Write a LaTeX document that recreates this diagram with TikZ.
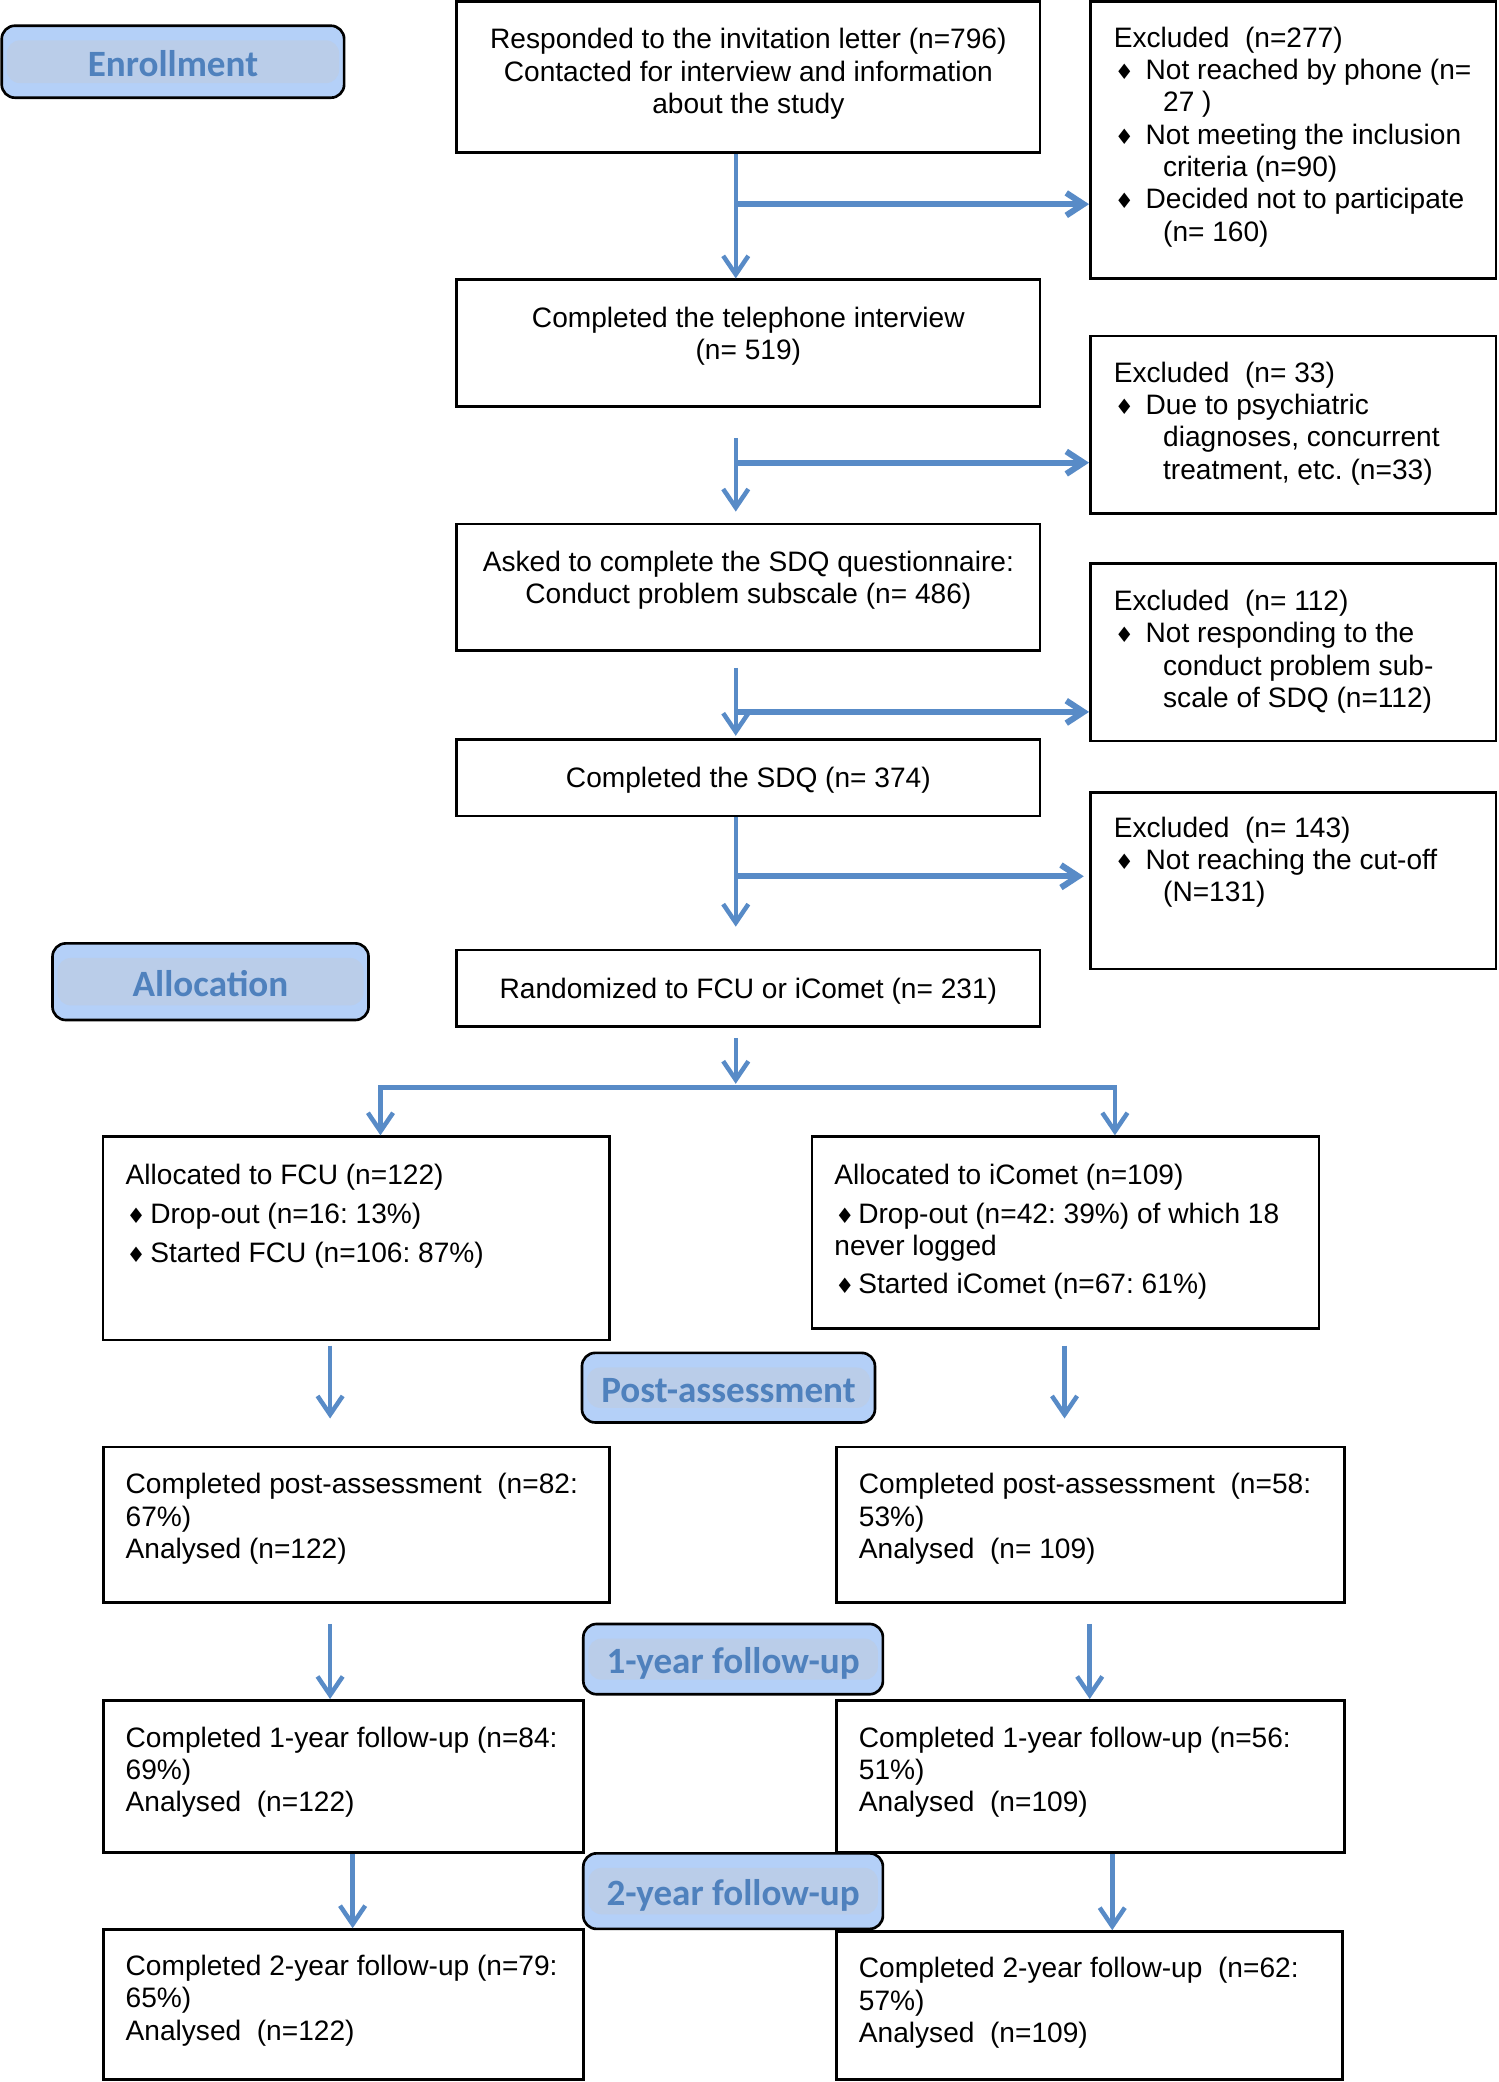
\documentclass[tikz,border=0pt]{standalone}
\usepackage{fontspec}
\setmainfont{Liberation Sans}
\newfontfamily\hdrfont{Carlito}
\newfontfamily\symfont{DejaVu Sans}
\usetikzlibrary{arrows.meta,calc,fit}
\definecolor{arrowc}{RGB}{88,139,199}
\definecolor{hdrtext}{RGB}{79,129,189}
\definecolor{hdrlight}{RGB}{180,208,248}
\definecolor{hdrmid}{RGB}{186,205,233}
\newcommand\dia{{\symfont\fontsize{8}{8}\selectfont ♦}}
\newcommand\bl[1]{\makebox[#1][l]{\hspace{0.4pt}\dia}}
\frenchspacing
\begin{document}
\frenchspacing
\begin{tikzpicture}[x=0.5pt,y=-0.5pt,
  box/.style={draw=black,line width=1pt,inner sep=0pt},
  hdr/.style={draw=black,line width=1pt,inner sep=0pt,rounded corners=5pt,fill=hdrlight,
     path picture={\fill[hdrmid] ([xshift=1.9pt,yshift=-5.5pt]path picture bounding box.north west) rectangle ([xshift=-1.9pt,yshift=5.5pt]path picture bounding box.south east);}},
  hdrtxt/.style={inner sep=0pt, anchor=base, font=\hdrfont\bfseries\fontsize{14}{16}\selectfont, text=hdrtext},
  txt/.style={inner sep=0pt, font=\frenchspacing\fontsize{10.6}{12.2}\selectfont, align=left, anchor=north west},
  ctxt/.style={txt, align=center, anchor=north},
  arr/.style={draw=arrowc, line width=1.7pt, -{Straight Barb[length=7pt,width=9.5pt]}},
  brarr/.style={draw=arrowc, line width=2.3pt, -{Straight Barb[length=6.5pt,width=8.5pt]}}
]
\useasboundingbox (0,0) rectangle (1130,1570.5);

% headers
\node[hdr, fit={(1.3,19.4) (259.6,73.7)}] (hE) {};
\node[hdr, fit={(39.6,711.6) (278,769.4)}] (hA) {};
\node[hdr, fit={(439,1020.5) (660,1073)}] (hP) {};
\node[hdr, fit={(440,1225) (666,1278)}] (h1) {};
\node[hdr, fit={(440,1398) (666,1455)}] (h2) {};
\node[hdrtxt] (hEt) at ($(hE.center)+(0,10.8)$) {Enrollment};
\node[hdrtxt] (hAt) at ($(hA.center)+(0,10.8)$) {Allocation};
\node[hdrtxt] (hPt) at ($(hP.center)+(0,10.8)$) {Post-assessment};
\node[hdrtxt] (h1t) at ($(h1.center)+(0,10.8)$) {1-year follow-up};
\node[hdrtxt] (h2t) at ($(h2.center)+(0,10.8)$) {2-year follow-up};

% boxes
\node[box, fit={(344.5,1.3) (784.4,115.2)}] (b1) {};
\node[box, fit={(822.5,1.3) (1128.5,210)}] (e1) {};
\node[box, fit={(344.5,211) (784.4,306.8)}] (b2) {};
\node[box, fit={(822.5,253.5) (1128.5,387.2)}] (e2) {};
\node[box, fit={(344.5,395.3) (784.4,490.8)}] (b3) {};
\node[box, fit={(822.5,425) (1128.5,559)}] (e3) {};
\node[box, fit={(344.5,558) (784.4,615.5)}] (b4) {};
\node[box, fit={(822.5,597.7) (1128.5,731)}] (e4) {};
\node[box, fit={(344.5,716.6) (784.4,774.5)}] (b5) {};
\node[box, fit={(77.8,857.4) (459.7,1010.8)}] (fcu) {};
\node[box, fit={(612.4,857.4) (995,1002)}] (ic) {};
\node[box, fit={(78,1091.5) (459.7,1209)}] (pf) {};
\node[box, fit={(631,1091.5) (1014,1209)}] (pi) {};
\node[box, fit={(78,1282.6) (440,1397.5)}] (yf) {};
\node[box, fit={(631,1282.6) (1014,1397.5)}] (yi) {};
\node[box, fit={(78,1455.5) (440,1568.8)}] (zf) {};
\node[box, fit={(631,1457) (1012.5,1568.8)}] (zi) {};

% texts
\node[ctxt] (t1) at (564.5,19.4) {\strut Responded to the invitation letter (n=796)\\Contacted for interview and information\\about the study};
\node[txt] (te1) at (839.8,18.1) {\strut Excluded\ \ (n=277)\\
\bl{12pt}Not reached by phone (n=\\
\hspace*{18.6pt}27 )\\
\bl{12pt}Not meeting the inclusion\\
\hspace*{18.6pt}criteria (n=90)\\
\bl{12pt}Decided not to participate\\
\hspace*{18.6pt}(n= 160)};
\node[ctxt] (t2) at (564.5,229.3) {\strut Completed the telephone interview\\(n= 519)};
\node[txt] (te2) at (839.8,270.8) {\strut Excluded\ \ (n= 33)\\
\bl{12pt}Due to psychiatric\\
\hspace*{18.6pt}diagnoses, concurrent\\
\hspace*{18.6pt}treatment, etc. (n=33)};
\node[ctxt] (t3) at (564.5,413.4) {\strut Asked to complete the SDQ questionnaire:\\Conduct problem subscale (n= 486)};
\node[txt] (te3) at (839.8,442.9) {\strut Excluded\ \ (n= 112)\\
\bl{12pt}Not responding to the\\
\hspace*{18.6pt}conduct problem sub-\\
\hspace*{18.6pt}scale of SDQ (n=112)};
\node[ctxt] (t4) at (564.5,576.4) {\strut Completed the SDQ (n= 374)};
\node[txt] (te4) at (839.8,613.9) {\strut Excluded\ \ (n= 143)\\
\bl{12pt}Not reaching the cut-off\\
\hspace*{18.6pt}(N=131)};
\node[ctxt] (t5) at (564.5,735.9) {\strut Randomized to FCU or iComet (n= 231)};
\node[txt] (tf) at (94.4,875.9) {\strut Allocated to FCU (n=122)\\[2.45pt]
\bl{9.3pt}Drop-out (n=16: 13\%)\\[2.45pt]
\bl{9.3pt}Started FCU (n=106: 87\%)};
\node[txt] (ti) at (629,875.9) {\strut Allocated to iComet (n=109)\\[2.45pt]
\bl{9pt}Drop-out (n=42: 39\%) of which 18\\
never logged\\[2.1pt]
\bl{9pt}Started iComet (n=67: 61\%)};
\node[txt] (tpf) at (94.4,1109.4) {\strut Completed post-assessment\ \ (n=82:\\67\%)\\Analysed (n=122)};
\node[txt] (tpi) at (647.5,1109.4) {\strut Completed post-assessment\ \ (n=58:\\53\%)\\Analysed\ \ (n= 109)};
\node[txt] (tyf) at (94.4,1300.5) {\strut Completed 1-year follow-up (n=84:\\69\%)\\Analysed\ \ (n=122)};
\node[txt] (tyi) at (647.5,1300.5) {\strut Completed 1-year follow-up (n=56:\\51\%)\\Analysed\ \ (n=109)};
\node[txt] (tzf) at (94.4,1472.7) {\strut Completed 2-year follow-up (n=79:\\65\%)\\Analysed\ \ (n=122)};
\node[txt] (tzi) at (647.5,1474.4) {\strut Completed 2-year follow-up\ \ (n=62:\\57\%)\\Analysed\ \ (n=109)};

% connectors
\coordinate (cx) at (555,0);
\draw[arr] (b1.south -| cx) -- (b2.north -| cx);
\coordinate (j1) at (555,154);
\draw[brarr] (j1) -- (j1 -| e1.west);
\draw[arr, shorten <=11.4pt, shorten >=4.2pt] (b2.south -| cx) -- (b3.north -| cx);
\coordinate (j2) at (555,349);
\draw[brarr] (j2) -- (j2 -| e2.west);
\draw[arr, shorten <=6pt, shorten >=1pt] (b3.south -| cx) -- (b4.north -| cx);
\coordinate (j3) at (555,537);
\draw[brarr] (j3) -- (j3 -| e3.west);
\draw[arr, shorten >=8.3pt] (b4.south -| cx) -- (b5.north -| cx);
\coordinate (j4) at (555,661);
\draw[brarr, shorten >=2pt] (j4) -- (j4 -| e4.west);
\coordinate (split) at (555,820.5);
\coordinate (sl) at (287,820.5);
\coordinate (sr) at (841,820.5);
\draw[arr] (split) -| (fcu.north -| sl);
\draw[arr] (split) -| (ic.north -| sr);
\draw[arr, shorten <=3.75pt, shorten >=1.5pt] (b5.south -| cx) -- (split);
\coordinate (cf1) at (249,0);
\coordinate (ci1) at (803,0);
\coordinate (ci2) at (822,0);
\coordinate (cf3) at (266,0);
\coordinate (ci3) at (839,0);
\draw[arr, shorten <=1.6pt, shorten >=10.25pt] (fcu.south -| cf1) -- (pf.north -| cf1);
\draw[arr, shorten <=6pt, shorten >=10.25pt] (ic.south -| ci1) -- (pi.north -| ci1);
\draw[arr, shorten <=7.5pt] (pf.south -| cf1) -- (yf.north -| cf1);
\draw[arr, shorten <=7.5pt] (pi.south -| ci2) -- (yi.north -| ci2);
\draw[arr] (yf.south -| cf3) -- (zf.north -| cf3);
\draw[arr] (yi.south -| ci3) -- (zi.north -| ci3);
\end{tikzpicture}
\end{document}
